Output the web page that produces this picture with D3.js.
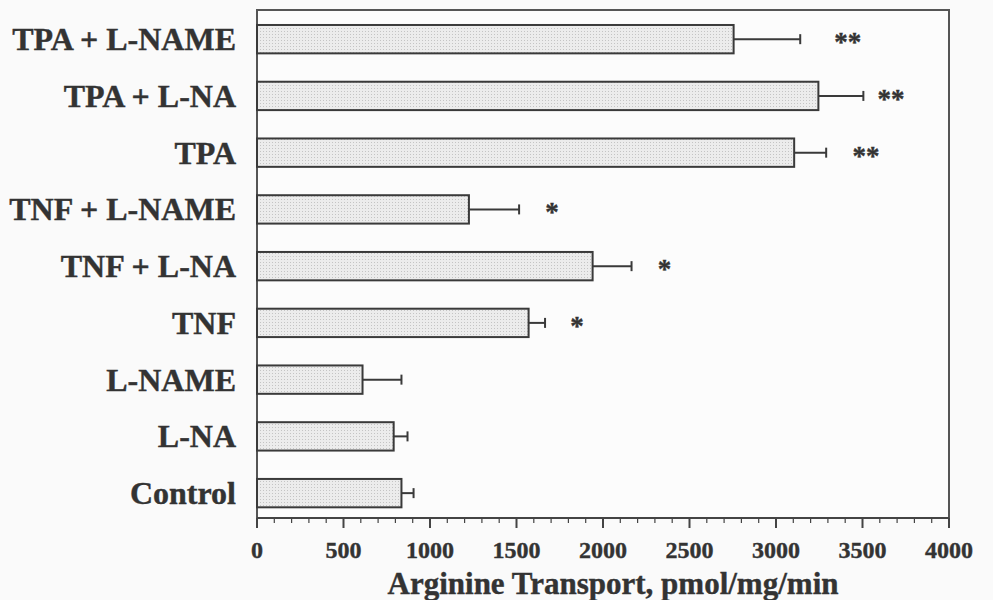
<!DOCTYPE html>
<html>
<head>
<meta charset="utf-8">
<script src="https://cdn.jsdelivr.net/npm/d3@7"></script>
<style>
  body { margin: 0; background: #fafafa; }
  svg { display: block; }
  text { font-family: "Liberation Serif", "Times New Roman", serif; font-weight: bold; fill: #333; stroke: #333; stroke-width: 0.4px; }
</style>
</head>
<body>
<svg width="993" height="600"></svg>
<script>
// groups from top to bottom
var groups = ["TPA + L-NAME", "TPA + L-NA", "TPA", "TNF + L-NAME", "TNF + L-NA", "TNF", "L-NAME", "L-NA", "Control"]
var means = [2755, 3245, 3105, 1225, 1940, 1570, 610, 790, 835]
var errors = [385, 260, 185, 290, 225, 95, 225, 80, 70]
var signif = ["**", "**", "**", "*", "*", "*", "", "", ""]
var signifAt = [3415, 3665, 3520, 1705, 2355, 1850, 0, 0, 0]
var xTicks = [0, 500, 1000, 1500, 2000, 2500, 3000, 3500, 4000]
var xTitle = "Arginine Transport, pmol/mg/min"

var margin = {l: 257, t: 10, r: 44, b: 82}
var width = 993 - margin.l - margin.r
var height = 600 - margin.t - margin.b

var svg = d3.select("svg")

var defs = svg.append("defs")
var pat = defs.append("pattern")
    .attr("id", "dots")
    .attr("patternUnits", "userSpaceOnUse")
    .attr("width", 3)
    .attr("height", 3)
pat.append("rect").attr("width", 3).attr("height", 3).attr("fill", "#ececec")
pat.append("rect").attr("width", 1).attr("height", 1).attr("fill", "#c4c4c4")

var g = svg.append("g")
    .attr("transform", "translate(" + margin.l + "," + margin.t + ")")

var x = d3.scaleLinear().domain([0, 4000]).range([0, width])
var y = d3.scaleBand().domain(groups).range([0.8, 511.5]).paddingInner(0.5).paddingOuter(0.25)

// frame
g.append("rect")
    .attr("x", 0).attr("y", 0)
    .attr("width", width).attr("height", height)
    .attr("fill", "#fcfcfc")
    .style("stroke", "#555")
    .style("stroke-width", 2)

// bars
g.selectAll(".bar")
    .data(groups)
    .enter()
    .append("rect")
    .attr("class", "bar")
    .attr("x", 0)
    .attr("y", function (d) { return y(d) })
    .attr("width", function (d, i) { return x(means[i]) })
    .attr("height", y.bandwidth())
    .attr("fill", "url(#dots)")
    .style("stroke", "#3a3a3a")
    .style("stroke-width", 2)

// error bars
g.selectAll(".err")
    .data(groups)
    .enter()
    .append("line")
    .attr("class", "err")
    .attr("x1", function (d, i) { return x(means[i]) })
    .attr("x2", function (d, i) { return x(means[i] + errors[i]) })
    .attr("y1", function (d) { return y(d) + y.bandwidth() / 2 })
    .attr("y2", function (d) { return y(d) + y.bandwidth() / 2 })
    .style("stroke", "#3a3a3a")
    .style("stroke-width", 2)
g.selectAll(".cap")
    .data(groups)
    .enter()
    .append("line")
    .attr("class", "cap")
    .attr("x1", function (d, i) { return x(means[i] + errors[i]) })
    .attr("x2", function (d, i) { return x(means[i] + errors[i]) })
    .attr("y1", function (d) { return y(d) + y.bandwidth() / 2 - 5 })
    .attr("y2", function (d) { return y(d) + y.bandwidth() / 2 + 5 })
    .style("stroke", "#3a3a3a")
    .style("stroke-width", 2)

// significance marks
g.selectAll(".sig")
    .data(groups)
    .enter()
    .append("text")
    .attr("class", "sig")
    .attr("x", function (d, i) { return x(signifAt[i]) })
    .attr("y", function (d) { return y(d) + y.bandwidth() / 2 + 12 })
    .attr("text-anchor", "middle")
    .style("font-size", "27px")
    .text(function (d, i) { return signif[i] })

// category labels
g.selectAll(".cat")
    .data(groups)
    .enter()
    .append("text")
    .attr("class", "cat")
    .attr("x", -21)
    .attr("y", function (d) { return y(d) + y.bandwidth() / 2 + 11 })
    .attr("text-anchor", "end")
    .style("font-size", "32px")
    .text(function (d) { return d })

// x axis
var axis = g.append("g")
    .attr("transform", "translate(0," + height + ")")
axis.append("line")
    .attr("x1", 0).attr("x2", width)
    .style("stroke", "#444").style("stroke-width", 2)
axis.selectAll(".minor")
    .data(d3.range(0, 4001, 100))
    .enter()
    .append("line")
    .attr("x1", function (d) { return x(d) })
    .attr("x2", function (d) { return x(d) })
    .attr("y1", 0)
    .attr("y2", function (d) { return d % 500 == 0 ? 10 : 5 })
    .style("stroke", "#444")
    .style("stroke-width", function (d) { return d % 500 == 0 ? 2 : 1.2 })
axis.selectAll(".tick-label")
    .data(xTicks)
    .enter()
    .append("text")
    .attr("x", function (d) { return x(d) })
    .attr("y", 40)
    .attr("text-anchor", "middle")
    .style("font-size", "24px")
    .text(function (d) { return d })

g.append("text")
    .attr("x", 356)
    .attr("y", height + 76)
    .attr("text-anchor", "middle")
    .style("font-size", "31px")
    .text(xTitle)
</script>
</body>
</html>
